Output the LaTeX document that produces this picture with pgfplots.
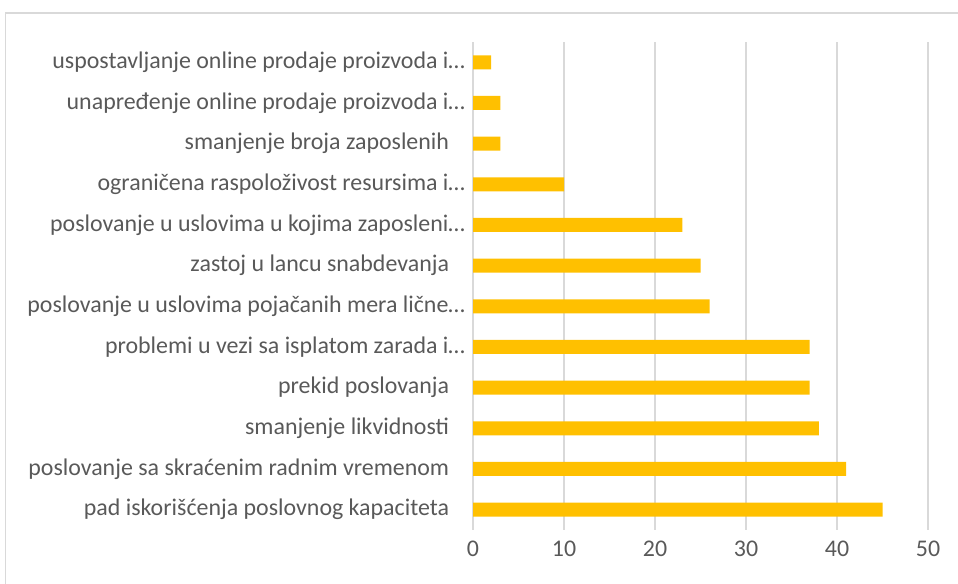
\documentclass[border=0pt]{standalone}
\usepackage{fontspec}
\setmainfont{Carlito}
\usepackage{pgfplots}
\pgfplotsset{compat=1.18}
\definecolor{barc}{HTML}{FFC000}
\definecolor{gridc}{HTML}{D9D9D9}
\definecolor{txt}{HTML}{595959}
\newcommand{\tsp}{\hspace{16bp}\null}
\begin{document}
\begin{tikzpicture}[x=1bp,y=1bp]
\useasboundingbox (0,0) rectangle (958,584);
\draw[gridc, line width=1.5bp] (5.5,-10) -- (5.5,571) -- (970,571);
\begin{axis}[
 at={(473bp,54bp)}, anchor=south west,
 scale only axis, width=455bp, height=488bp,
 xbar, bar width=14bp,
 xmin=0, xmax=50, ymin=-0.5, ymax=11.5,
 xtick={0,10,...,50},
 ytick={0,...,11},
 yticklabels={
  pad iskorišćenja poslovnog kapaciteta\tsp,
  poslovanje sa skraćenim radnim vremenom\tsp,
  smanjenje likvidnosti\tsp,
  prekid poslovanja\tsp,
  problemi u vezi sa isplatom zarada i…,
  poslovanje u uslovima pojačanih mera lične…,
  zastoj u lancu snabdevanja\tsp,
  poslovanje u uslovima u kojima zaposleni…,
  ograničena raspoloživost resursima i…,
  smanjenje broja zaposlenih\tsp,
  unapređenje online prodaje proizvoda i…,
  uspostavljanje online prodaje proizvoda i…},
 axis line style={draw=none},
 major tick style={draw=none},
 xmajorgrids, grid style={gridc, line width=1.5bp},
 ticklabel style={font=\fontsize{24}{28}\selectfont, text=txt},
 yticklabel style={inner sep=3.5bp},
 /pgf/number format/assume math mode=true,
 xticklabel style={yshift=-7bp},
 clip=false,
]
\addplot[fill=barc, draw=none] coordinates {
 (45,0) (41,1) (38,2) (37,3) (37,4) (26,5) (25,6) (23,7) (10,8) (3,9) (3,10) (2,11)};
\end{axis}
\end{tikzpicture}
\end{document}
